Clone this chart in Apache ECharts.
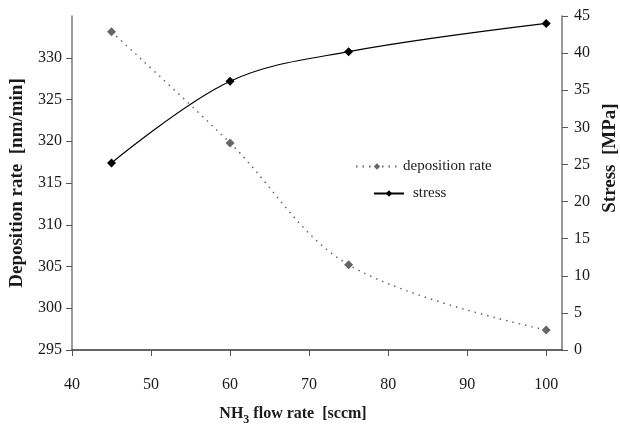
<!DOCTYPE html>
<html>
<head>
<meta charset="utf-8">
<script src="https://cdn.jsdelivr.net/npm/echarts@6/dist/echarts.min.js"></script>
<style>
  html, body { margin: 0; padding: 0; background: #fff; }
  #chart { width: 620px; height: 430px; }
</style>
</head>
<body>
<div id="chart"></div>
<script>
'use strict';

var flowRate = [45, 60, 75, 100];
var depositionRate = [333.1, 319.8, 305.2, 297.4];
var stress = [25.2, 36.2, 40.2, 44];

var serif = '"Liberation Serif", "DejaVu Serif", serif';
var ink = '#1a1a1a';

var pairs = function(xs, ys) {
  return xs.map(function(x, i) { return [x, ys[i]]; });
};

var chart = echarts.init(document.getElementById('chart'));

chart.setOption({
  animation: false,
  backgroundColor: '#fff',
  textStyle: { fontFamily: serif, color: ink },
  grid: { left: 72, right: 58, top: 16, bottom: 80, outerBoundsMode: 'none', containLabel: false },
  legend: [
    {
      left: 355,
      top: 159,
      padding: 0,
      itemWidth: 42,
      itemHeight: 8,
      textStyle: { fontFamily: serif, fontSize: 15, color: ink },
      data: ['deposition rate']
    },
    {
      left: 373,
      top: 186,
      padding: 0,
      itemWidth: 30,
      itemHeight: 8,
      textStyle: { fontFamily: serif, fontSize: 15, color: ink, padding: [0, 0, 0, 4] },
      data: ['stress']
    }
  ],
  graphic: [
    {
      type: 'text',
      x: 610,
      y: 158,
      rotation: Math.PI / 2,
      style: {
        text: 'Stress  [MPa]',
        font: 'bold 19px "Liberation Serif", serif',
        fill: ink,
        align: 'center',
        verticalAlign: 'middle'
      }
    }
  ],
  xAxis: {
    type: 'value',
    min: 40,
    max: 102,
    interval: 10,
    name: '{b|NH}{s|3}{b| flow rate  [sccm]}',
    nameLocation: 'middle',
    nameGap: 52,
    nameTextStyle: {
      padding: [0, 48, 0, 0],
      rich: {
        b: { fontFamily: serif, fontSize: 16, fontWeight: 'bold', color: ink },
        s: { fontFamily: serif, fontSize: 12, fontWeight: 'bold', color: ink, verticalAlign: 'bottom', padding: [12, 0, 0, 0] }
      }
    },
    axisLine: { lineStyle: { color: '#333', width: 1.5 } },
    axisTick: { inside: false, length: 6, lineStyle: { color: '#555' } },
    axisLabel: { fontSize: 16, color: ink, margin: 27, showMaxLabel: false },
    splitLine: { show: false }
  },
  yAxis: [
    {
      type: 'value',
      min: 295,
      max: 335,
      interval: 5,
      position: 'left',
      name: 'Deposition rate  [nm/min]',
      nameLocation: 'middle',
      nameGap: 45,
      nameTextStyle: { fontFamily: serif, fontSize: 19, fontWeight: 'bold', color: ink },
      axisLine: { show: true, lineStyle: { color: '#777', width: 1.5 } },
      axisTick: { show: true, inside: false, length: 6, lineStyle: { color: '#555' } },
      axisLabel: { fontSize: 16, color: ink, margin: 10, showMaxLabel: false },
      splitLine: { show: false }
    },
    {
      type: 'value',
      min: 0,
      max: 45,
      interval: 5,
      position: 'right',
      axisLine: { show: true, lineStyle: { color: '#777', width: 1.5 } },
      axisTick: { show: true, inside: false, length: 6, lineStyle: { color: '#555' } },
      axisLabel: { fontSize: 16, color: ink, margin: 12 },
      splitLine: { show: false }
    }
  ],
  series: [
    {
      name: 'deposition rate',
      type: 'line',
      yAxisIndex: 0,
      data: pairs(flowRate, depositionRate),
      smooth: 0.35,
      symbol: 'diamond',
      symbolSize: 9,
      itemStyle: { color: '#666' },
      lineStyle: { color: '#666', width: 1.5, type: [1.5, 5] }
    },
    {
      name: 'stress',
      type: 'line',
      yAxisIndex: 1,
      data: pairs(flowRate, stress),
      smooth: 0.35,
      symbol: 'diamond',
      symbolSize: 9,
      itemStyle: { color: '#000' },
      lineStyle: { color: '#000', width: 1.2 }
    }
  ]
});
</script>
</body>
</html>
